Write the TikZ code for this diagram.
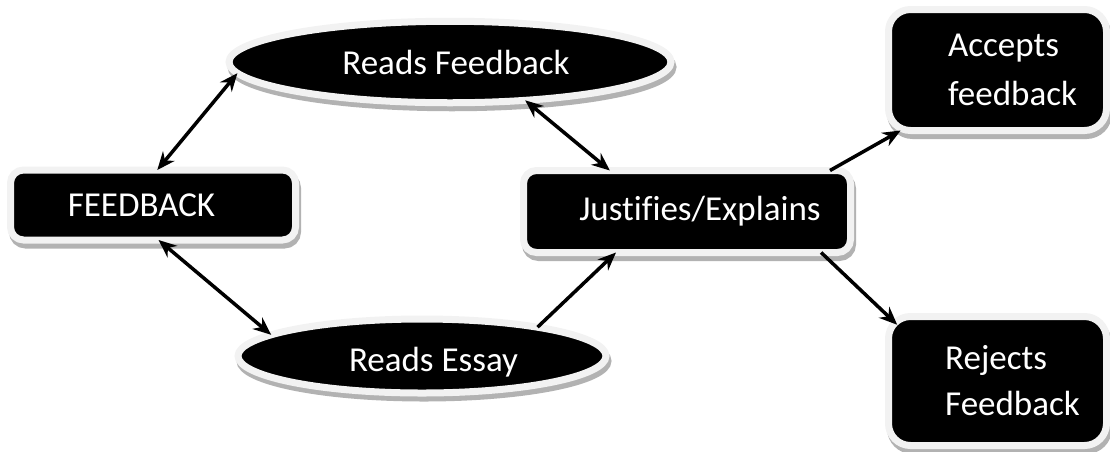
\documentclass[tikz,border=0pt]{standalone}
\usepackage{fontspec}
\setmainfont{Carlito}[Ligatures=NoCommon]
\usetikzlibrary{arrows.meta,shapes.geometric}
\begin{document}
\begin{tikzpicture}[x=1pt,y=-1pt,
  shape3d/.style={fill=black, draw=black!5, line width=7pt, outer sep=0pt, inner sep=0pt,
    text=white, font=\fontsize{35}{48}\selectfont,
    preaction={draw=black!30, fill=black!30, line width=7pt, transform canvas={shift={(2pt,-5pt)}}}},
  boxnode/.style={shape3d, rectangle, rounded corners=13pt},
  bigbox/.style={shape3d, rectangle, rounded corners=22pt, align=left},
  ellnode/.style={shape3d, ellipse},
  link/.style={line width=3.5pt, -{Stealth[length=18pt,width=15pt]}},
  dlink/.style={line width=3.5pt, {Stealth[length=18pt,width=15pt]}-{Stealth[length=18pt,width=15pt]}}]
\useasboundingbox (0,0) rectangle (1110,451);
\node[boxnode, minimum width=285pt, minimum height=70pt] (fb) at (153,205) {FEEDBACK\hspace*{23pt}};
\node[ellnode, minimum width=442pt, minimum height=81.5pt] (rf) at (450,62) {\hspace*{12pt}Reads Feedback};
\node[ellnode, minimum width=368pt, minimum height=74pt] (re) at (422,356) {\hspace*{23pt}\raisebox{-6pt}[\height][\depth]{Reads Essay}};
\node[boxnode, minimum width=327pt, minimum height=82pt] (jus) at (687,211.5) {\hspace*{26pt}Justifies/Explains};
\node[bigbox, minimum width=218pt, minimum height=121pt, font=\fontsize{35}{49}\selectfont] (acc) at (997.5,70) {\hspace*{30pt}Accepts\\\hspace*{30pt}feedback};
\node[bigbox, minimum width=218pt, minimum height=129pt, font=\fontsize{35}{46}\selectfont] (rej) at (997.5,381) {\hspace*{30pt}Rejects\\\hspace*{30pt}Feedback};
\draw[dlink] (fb.83) -- (rf.183.3);
\draw[dlink] (fb.279) -- (re.172.5);
\draw[dlink] (rf.333.6) -- (jus.152);
\draw[link] (re.14) -- (jus.210.7);
\draw[link] (jus.16) -- (acc.212.35);
\draw[link, shorten >=-12pt] (jus.343.5) -- (rej.north west);
\end{tikzpicture}
\end{document}
